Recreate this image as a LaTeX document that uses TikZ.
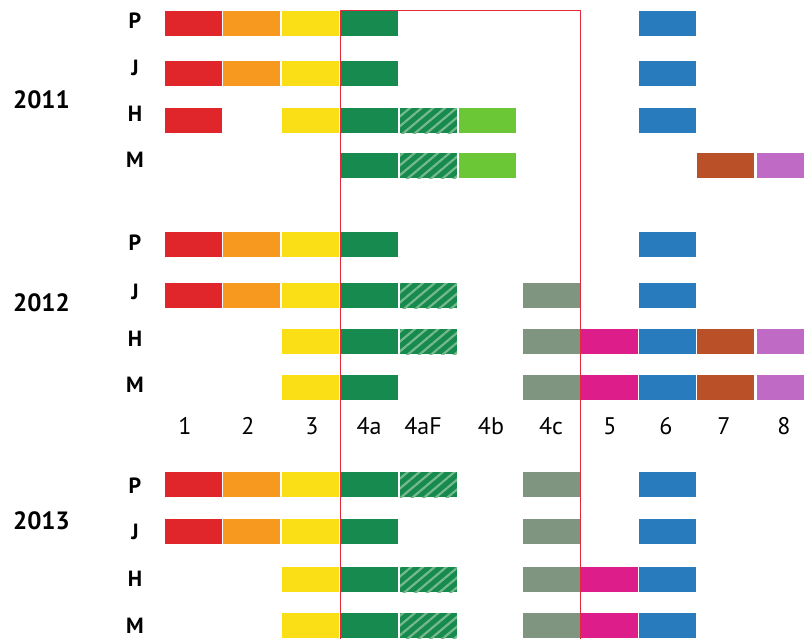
\documentclass[tikz,border=0pt]{standalone}
\usepackage{fontspec}
\setmainfont{PT Sans}
\usetikzlibrary{patterns.meta}

\definecolor{cred}{HTML}{E1262B}
\definecolor{corange}{HTML}{F6991E}
\definecolor{cyellow}{HTML}{FBDF16}
\definecolor{cgreen}{HTML}{178A4F}
\definecolor{clgreen}{HTML}{6BC736}
\definecolor{cgray}{HTML}{80957F}
\definecolor{cpink}{HTML}{DD1D89}
\definecolor{cblue}{HTML}{287BBD}
\definecolor{cbrown}{HTML}{B95027}
\definecolor{cpurple}{HTML}{BF6BC6}
\definecolor{chatch}{HTML}{76BA8B}
\definecolor{cframe}{HTML}{E2293E}

\pgfkeys{/col/1/.initial=165, /col/2/.initial=223, /col/3/.initial=282,
	/col/4a/.initial=341, /col/4aF/.initial=400, /col/4b/.initial=459,
	/col/4c/.initial=523, /col/5/.initial=581, /col/6/.initial=639,
	/col/7/.initial=697, /col/8/.initial=757}

\begin{document}
\begin{tikzpicture} [x=1pt, y=-1pt,
	year/.style={anchor=base, font=\bfseries\fontsize{25}{28}\selectfont},
	who/.style={anchor=base, font=\bfseries\fontsize{22}{26}\selectfont},
	step num/.style={anchor=base, font=\fontsize{24}{28}\selectfont},
	col1/.style={fill=cred},	col2/.style={fill=corange},	col3/.style={fill=cyellow},
	col4a/.style={fill=cgreen},	col4b/.style={fill=clgreen},	col4c/.style={fill=cgray},
	col4aF/.style={fill=cgreen, postaction={pattern={Lines[angle=40,distance=7.5pt,line width=2.2pt]}, pattern color=chatch}},
	col5/.style={fill=cpink},	col6/.style={fill=cblue},	col7/.style={fill=cbrown},
	col8/.style={fill=cpurple},
	frame/.style={draw=cframe, line width=1.2pt}]

\useasboundingbox (0,0) rectangle (804,638);
\clip (0,0) rectangle (804,638);

% bars, one row each
\foreach \y/\list in {11/{1,2,3,4a,6}, 61/{1,2,3,4a,6}, 108/{1,3,4a,4aF,4b,6}, 153/{4a,4aF,4b,7,8},
		232/{1,2,3,4a,6}, 283/{1,2,3,4a,4aF,4c,6}, 329/{3,4a,4aF,4c,5,6,7,8}, 375/{3,4a,4c,5,6,7,8},
		472/{1,2,3,4a,4aF,4c,6}, 519/{1,2,3,4a,4c,6}, 567/{3,4a,4aF,4c,5,6}, 613/{3,4a,4aF,4c,5,6}}
	\foreach \n in \list
		\fill[col\n]	(\pgfkeysvalueof{/col/\n},\y) rectangle ++(57,25);

\node[year]	(y2011)	at (41.5,108)	{2011};
\node[year]	(y2012)	at (41.5,311.5)	{2012};
\node[year]	(y2013)	at (41.5,529)	{2013};

\foreach \yr/\p/\j/\h/\m in {2011/28/75/121/167, 2012/250/299/346/392, 2013/493/539/586/633} {
	\node[who]	(p\yr)	at (135,\p)	{P};
	\node[who]	(j\yr)	at (135,\j)	{J};
	\node[who]	(h\yr)	at (135,\h)	{H};
	\node[who]	(m\yr)	at (135,\m)	{M};
}

\foreach \t/\x in {1/185, 2/248, 3/312, 4a/369, 4aF/423, 4b/491, 4c/551, 5/610, 6/666, 7/724, 8/784}
	\node[step num]	(n\t)	at (\x,434)	{\t};

\draw[frame]	(340.3,640) -- (340.3,10.6) -- (580.3,10.6) -- (580.3,640);

\end{tikzpicture}
\end{document}
